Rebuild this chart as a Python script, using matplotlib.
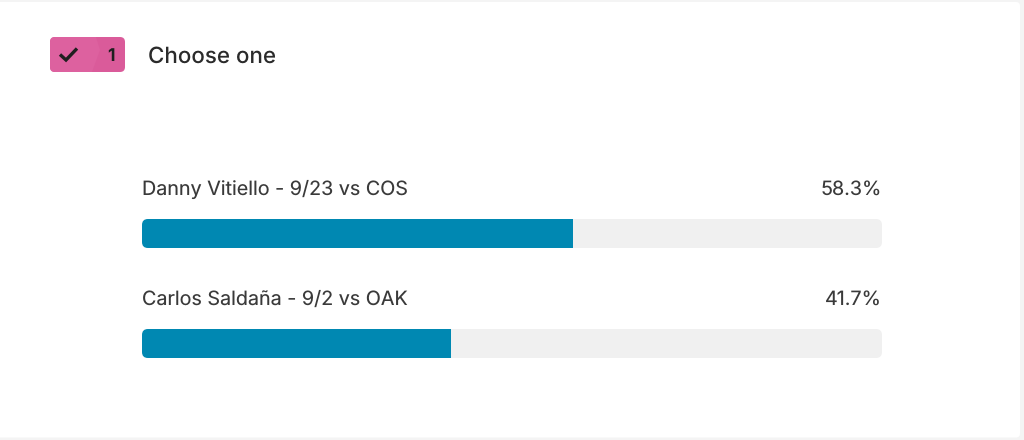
import matplotlib
matplotlib.use('Agg')
import matplotlib.pyplot as plt
import matplotlib.patches as patches

# values
labels = ['Danny Vitiello - 9/23 vs COS', 'Carlos Saldaña - 9/2 vs OAK']
percents = [58.3, 41.7]
pct_labels = ['58.3%', '41.7%']
question = 'Choose one'
badge_count = '1'

BAR_COLOR = '#0088b2'
TRACK_COLOR = '#f0f0f0'
TEXT_COLOR = '#3a3a3a'
PINK = '#da5b9a'

plt.rcParams['font.family'] = ['Inter', 'DejaVu Sans']
plt.rcParams['text.hinting'] = 'no_hinting'

W, H = 1024, 440
fig = plt.figure(figsize=(W / 100, H / 100), dpi=100, facecolor='#f4f4f4')

# page layer, in pixels from the top left
page = fig.add_axes([0, 0, 1, 1])
page.set_xlim(0, W)
page.set_ylim(H, 0)
page.axis('off')

card = patches.FancyBboxPatch((-10, 2), 1030, 435.5,
                              boxstyle='round,pad=0,rounding_size=4',
                              fc='white', ec='none')
page.add_patch(card)

# badge
badge = patches.FancyBboxPatch((50, 37), 75, 35,
                               boxstyle='round,pad=0,rounding_size=5',
                               fc=PINK, ec='none')
page.add_patch(badge)
shade = patches.Polygon([(50, 72), (50, 37), (96, 37), (100, 50), (92, 72)],
                        fc='#dd619f', ec='none')
page.add_patch(shade)
shade.set_clip_path(badge)
page.plot([60, 66, 77], [54.5, 60, 48.5], color='#1f1f1f', lw=2.4,
          solid_capstyle='butt', solid_joinstyle='miter')
page.text(110.5, 56, badge_count, fontsize=12.5, fontweight='bold',
          color='#1f1f1f', ha='center', va='center')
page.text(148, 56.5, question, fontsize=16.1, fontweight='medium',
          color='#2b2b2b', ha='left', va='center')

# bars: one row is 110 px, x axis runs over the 740 px track
ROW_PX = 110
TRACK_PX = 740
BAR_PX = 29
ax = fig.add_axes([142 / W, 1 - 398.5 / H, TRACK_PX / W, 2 * ROW_PX / H])
ax.set_xlim(0, 100)
ax.set_ylim(1.5, -0.5)
ax.axis('off')
ax.patch.set_alpha(0)

bar_h = BAR_PX / ROW_PX
unit_x = TRACK_PX / 100
for i, (name, pct, pct_label) in enumerate(zip(labels, percents, pct_labels)):
    track = patches.FancyBboxPatch((0, i - bar_h / 2), 100, bar_h,
                                   boxstyle='round,pad=0,rounding_size=%.3f' % (6 / unit_x),
                                   mutation_aspect=unit_x / ROW_PX,
                                   fc=TRACK_COLOR, ec='none')
    ax.add_patch(track)
    bars = ax.barh(i, pct, height=bar_h, color=BAR_COLOR)
    bars[0].set_clip_path(track)
    ax.text(0.05, i - 0.402, name, fontsize=14.2, color=TEXT_COLOR,
            ha='left', va='center')
    ax.text(100, i - 0.402, pct_label, fontsize=14.2, color=TEXT_COLOR,
            ha='right', va='center')

fig.savefig('out.png', dpi=100, facecolor=fig.get_facecolor())
